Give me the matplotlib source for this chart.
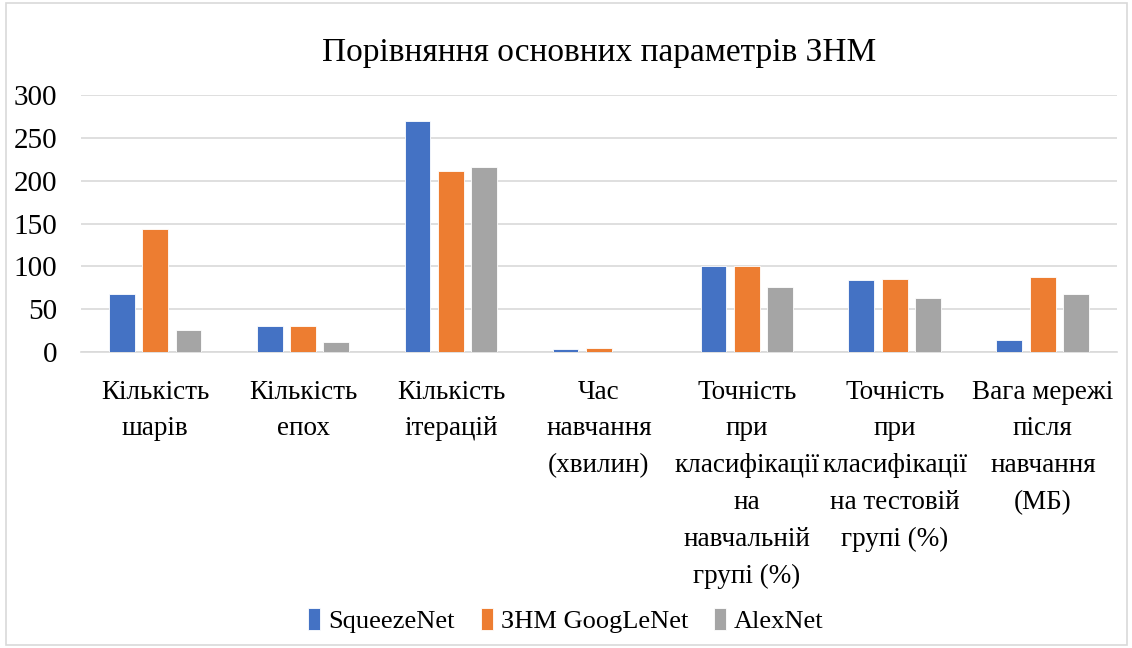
import numpy as np
import matplotlib.pyplot as plt
from matplotlib.patches import Rectangle

categories = [
    'Кількість\nшарів',
    'Кількість\nепох',
    'Кількість\nітерацій',
    'Час\nнавчання\n(хвилин)',
    'Точність\nпри\nкласифікації\nна\nнавчальній\nгрупі (%)',
    'Точність\nпри\nкласифікації\nна тестовій\nгрупі (%)',
    'Вага мережі\nпісля\nнавчання\n(МБ)',
]
series_names = ['SqueezeNet', 'ЗНМ GoogLeNet', 'AlexNet']
squeezenet = [68, 30, 270, 3, 100, 83.5, 13.5]
googlenet = [144, 30, 211, 5, 100, 85.5, 88]
alexnet = [25, 12, 216, 0, 75.5, 63, 68]
colors = ['#4472C4', '#ED7D31', '#A5A5A5']

plt.rcParams['font.family'] = ['Liberation Serif', 'DejaVu Serif']

fig = plt.figure(figsize=(11.32, 6.48), dpi=100)
ax = fig.add_axes([0.0716, 0.457, 0.915, 0.396])

x = np.arange(len(categories))
w = 0.175
step = 0.226
for i, (vals, name) in enumerate(zip([squeezenet, googlenet, alexnet], series_names)):
    ax.bar(x + (i - 1) * step, vals, w, color=colors[i], label=name,
           edgecolor='white', linewidth=0.6, zorder=3)

ax.set_xlim(-0.5, len(categories) - 0.5)
ax.set_ylim(0, 300)
ax.set_yticks(range(0, 301, 50))
ax.yaxis.grid(True, color='#d9d9d9', linewidth=1.2, zorder=0)
for s in ['top', 'right', 'left']:
    ax.spines[s].set_visible(False)
ax.spines['bottom'].set_color('#d9d9d9')
ax.spines['bottom'].set_linewidth(1.2)
ax.tick_params(axis='both', length=0)
ax.tick_params(axis='y', pad=17, labelsize=21)
ax.tick_params(axis='x', pad=20, labelsize=19.5)
ax.set_xticks(x)
ax.set_xticklabels(categories, linespacing=1.62, va='top')

ax.set_title('Порівняння основних параметрів ЗНМ', fontsize=24, pad=25)

leg = fig.legend(loc='center', bbox_to_anchor=(0.5, 0.043), ncol=3, frameon=False,
                 fontsize=19, handlelength=0.45, handleheight=0.9,
                 handletextpad=0.3, columnspacing=1.0)

fig.patches.append(Rectangle((0.005, 0.004), 0.991, 0.992, transform=fig.transFigure,
                             fill=False, edgecolor='#d9d9d9', linewidth=1.2))

fig.savefig('out.png', dpi=100)
